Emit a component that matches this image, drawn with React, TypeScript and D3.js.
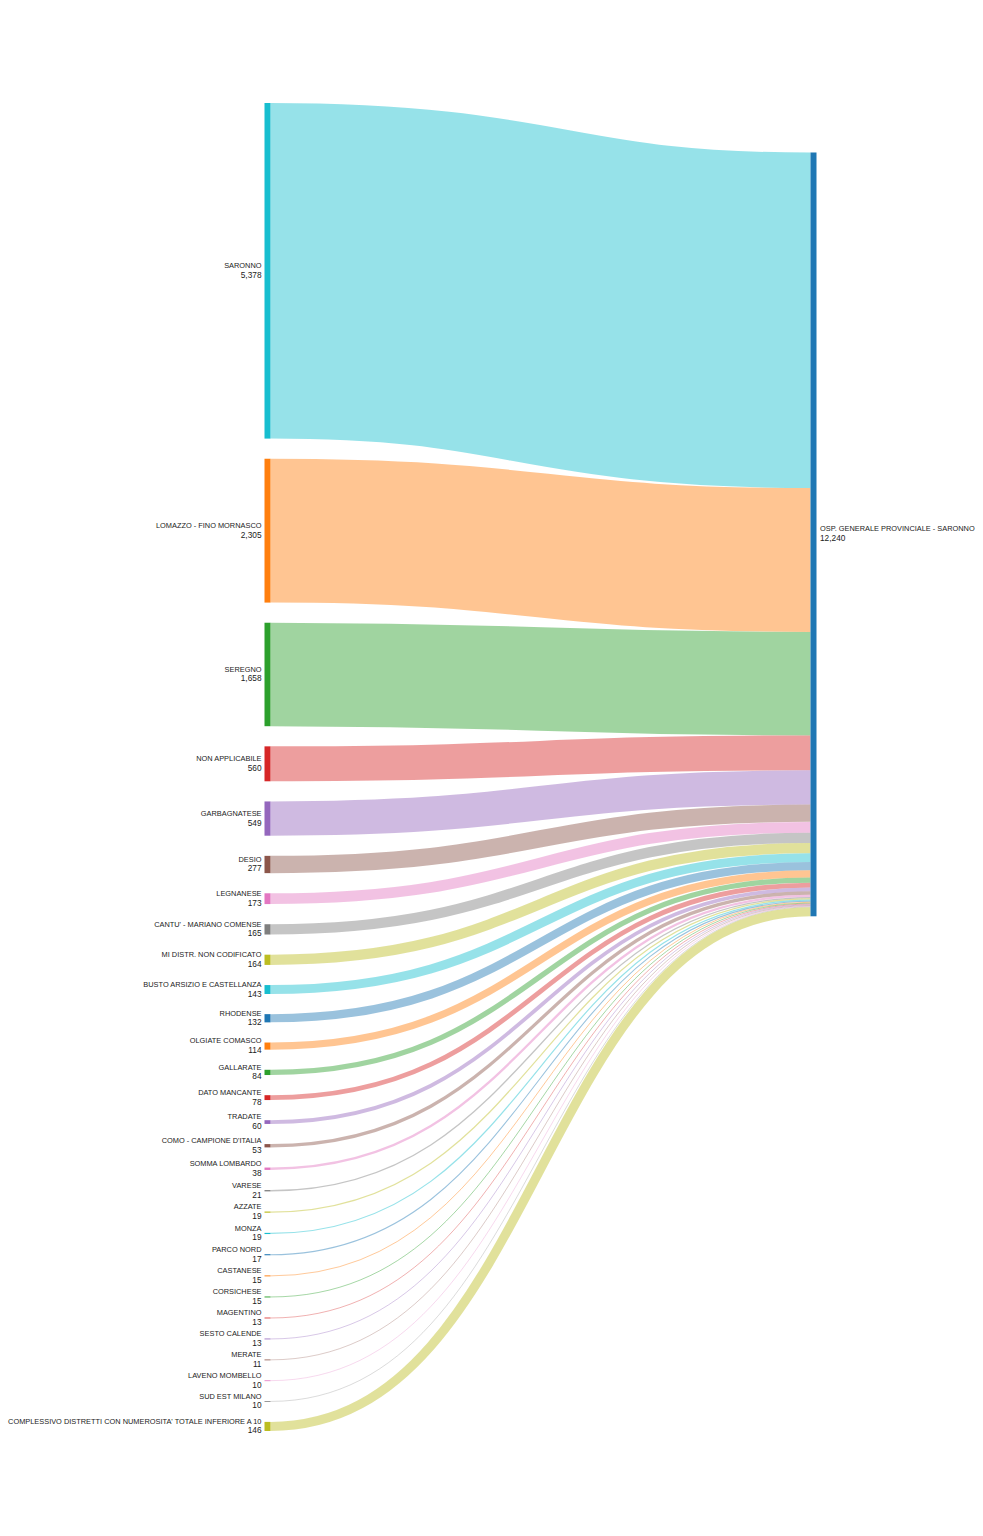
import React from "react";
import * as d3 from "d3";

const sources: string[] = [
  "SARONNO",
  "LOMAZZO - FINO MORNASCO",
  "SEREGNO",
  "NON APPLICABILE",
  "GARBAGNATESE",
  "DESIO",
  "LEGNANESE",
  "CANTU' - MARIANO COMENSE",
  "MI DISTR. NON CODIFICATO",
  "BUSTO ARSIZIO E CASTELLANZA",
  "RHODENSE",
  "OLGIATE COMASCO",
  "GALLARATE",
  "DATO MANCANTE",
  "TRADATE",
  "COMO - CAMPIONE D'ITALIA",
  "SOMMA LOMBARDO",
  "VARESE",
  "AZZATE",
  "MONZA",
  "PARCO NORD",
  "CASTANESE",
  "CORSICHESE",
  "MAGENTINO",
  "SESTO CALENDE",
  "MERATE",
  "LAVENO MOMBELLO",
  "SUD EST MILANO",
  "COMPLESSIVO DISTRETTI CON NUMEROSITA' TOTALE INFERIORE A 10",
];

const values: number[] = [
  5378, 2305, 1658, 560, 549, 277, 173, 165, 164, 143, 132, 114, 84, 78, 60, 53, 38,
  21, 19, 19, 17, 15, 15, 13, 13, 11, 10, 10, 146,
];

const target = "OSP. GENERALE PROVINCIALE - SARONNO";

const WIDTH = 983;
const HEIGHT = 1536;
const TOP = 103;
const BOTTOM = 1431;
const PAD = 20.15;
const LEFT_X0 = 264.5;
const RIGHT_X0 = 810.5;
const NODE_W = 6;

const palette = d3.schemeCategory10;
const srcColor = (i: number) => (i === 0 ? palette[9] : palette[i % 10]);
const targetColor = palette[0];

export default function App() {
  const total = d3.sum(values);
  const n = values.length;
  const ky = (BOTTOM - TOP - (n - 1) * PAD) / total;

  const scaleH = d3.scaleLinear().domain([0, total]).range([0, total * ky]);

  let y = TOP;
  const nodes = sources.map((name, i) => {
    const h = scaleH(values[i]);
    const node = { name, value: values[i], y0: y, y1: y + h, color: srcColor(i) };
    y += h + PAD;
    return node;
  });

  const tH = scaleH(total);
  const center = d3.sum(nodes, (d) => d.value * (d.y0 + d.y1) / 2) / total;
  const tY0 = center - tH / 2;
  const tY1 = tY0 + tH;

  let ty = tY0;
  const links = nodes.map((nd) => {
    const w = nd.y1 - nd.y0;
    const yt = ty + w / 2;
    ty += w;
    return { w, ys: (nd.y0 + nd.y1) / 2, yt, color: nd.color };
  });

  const linkGen = d3
    .linkHorizontal<any, [number, number]>()
    .source((d: any) => d[0])
    .target((d: any) => d[1]);

  const fmt = d3.format(",");

  return (
    <div style={{ position: "absolute", left: 0, top: 0 }}>
      <svg width={WIDTH} height={HEIGHT} style={{ display: "block", background: "#fff" }}>
        <g fill="none">
          {links.map((l, i) => (
            <path
              key={i}
              d={linkGen([[LEFT_X0 + NODE_W, l.ys], [RIGHT_X0, l.yt]] as any) || ""}
              stroke={l.color}
              strokeOpacity={0.45}
              strokeWidth={Math.max(0.6, l.w)}
            />
          ))}
        </g>
        <g>
          {nodes.map((nd, i) => (
            <rect
              key={i}
              x={LEFT_X0}
              y={nd.y0}
              width={NODE_W}
              height={Math.max(0.8, nd.y1 - nd.y0)}
              fill={nd.color}
            />
          ))}
          <rect x={RIGHT_X0} y={tY0} width={NODE_W} height={tH} fill={targetColor} />
        </g>
        <g fontFamily="'Liberation Sans', Arial, sans-serif" fontSize={7.4} fill="#222">
          {nodes.map((nd, i) => {
            const c = (nd.y0 + nd.y1) / 2;
            return (
              <text key={i} x={LEFT_X0 - 3} textAnchor="end">
                <tspan x={LEFT_X0 - 3} y={c - 2.7}>{nd.name}</tspan>
                <tspan x={LEFT_X0 - 3} y={c + 7} fontSize={8.3}>{fmt(nd.value)}</tspan>
              </text>
            );
          })}
          <text x={RIGHT_X0 + NODE_W + 3.5}>
            <tspan x={RIGHT_X0 + NODE_W + 3.5} y={(tY0 + tY1) / 2 - 3.5}>{target}</tspan>
            <tspan x={RIGHT_X0 + NODE_W + 3.5} y={(tY0 + tY1) / 2 + 7} fontSize={8.3}>{fmt(total)}</tspan>
          </text>
        </g>
      </svg>
    </div>
  );
}
